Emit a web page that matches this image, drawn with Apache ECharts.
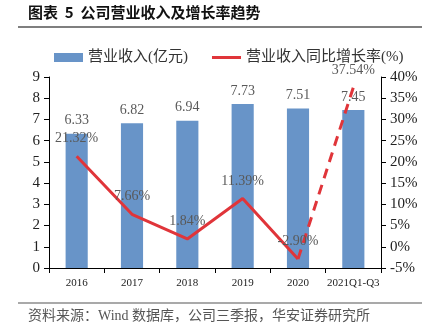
<!DOCTYPE html>
<html><head><meta charset="utf-8">
<script src="https://cdn.jsdelivr.net/npm/echarts@6/dist/echarts.min.js"></script>
<style>html,body{margin:0;padding:0;background:#fff}#c{width:422px;height:335px}</style>
</head><body><div id="c"></div>
<script>
const categories = ['2016','2017','2018','2019','2020','2021Q1-Q3'];
const revenue = [6.33, 6.82, 6.94, 7.73, 7.51, 7.45];
const growthSolid = [21.32, 7.66, 1.84, 11.39, -2.90, '-'];
const growthDashed = ['-', '-', '-', '-', -2.90, 37.54];
const leftTicks = [0, 9, 1];
const rightTicks = [-5, 40, 5];

const serif = '"Times New Roman","Liberation Serif","Noto Sans CJK SC",serif';
const cjk = '"Liberation Serif","Noto Sans CJK SC",serif';
const chart = echarts.init(document.getElementById('c'));
chart.setOption({
  animation: false,
  grid: {left: 49, right: 41, top: 77, bottom: 67},
  legend: {
    left: 49, top: 45, itemGap: 24, itemWidth: 29, itemHeight: 9,
    textStyle: {fontFamily: cjk, fontSize: 15, color: '#333'},
    data: [
      {name: '营业收入(亿元)', icon: 'rect'},
      {name: '营业收入同比增长率(%)', icon: 'path://M0,0 L0.01,0 Z M0,3 L30,3 L30,6 L0,6 Z M0,9 L0.01,9 Z', itemStyle: {color: '#E0353A'}}
    ]
  },
  xAxis: {
    type: 'category', data: categories,
    axisLine: {lineStyle: {color: '#000'}},
    axisTick: {show: true, lineStyle: {color: '#000'}, length: 5},
    axisLabel: {fontFamily: serif, fontSize: 11, color: '#222', margin: 10, interval: 0}
  },
  yAxis: [
    {type: 'value', min: leftTicks[0], max: leftTicks[1], interval: leftTicks[2],
     splitLine: {show: false},
     axisLine: {show: true, lineStyle: {color: '#000'}},
     axisTick: {show: true, lineStyle: {color: '#000'}, length: 5},
     axisLabel: {fontFamily: serif, fontSize: 15, color: '#222', margin: 9}},
    {type: 'value', min: rightTicks[0], max: rightTicks[1], interval: rightTicks[2],
     splitLine: {show: false},
     axisLine: {show: true, lineStyle: {color: '#000'}},
     axisTick: {show: true, lineStyle: {color: '#000'}, length: 5},
     axisLabel: {fontFamily: serif, fontSize: 15, color: '#222', margin: 9, formatter: '{value}%'}}
  ],
  series: [
    {name: '营业收入(亿元)', type: 'bar', data: revenue, barWidth: '40%',
     itemStyle: {color: '#6894C8'},
     label: {show: true, position: 'top', distance: 6, fontFamily: serif, fontSize: 14, color: '#595959',
             formatter: p => p.value.toFixed(2)}},
    {name: '营业收入同比增长率(%)', type: 'line', yAxisIndex: 1, data: growthSolid,
     symbol: 'circle', symbolSize: 1, showSymbol: true, itemStyle: {color: 'rgba(0,0,0,0)'},
     lineStyle: {color: '#E0353A', width: 3},
     label: {show: true, position: 'top', distance: 10, fontFamily: serif, fontSize: 14, color: '#595959',
             formatter: p => p.value.toFixed(2) + '%'}},
    {name: 'dash', type: 'line', yAxisIndex: 1, data: growthDashed,
     symbol: 'circle', symbolSize: 1, showSymbol: true, itemStyle: {color: 'rgba(0,0,0,0)'},
     lineStyle: {color: '#E0353A', width: 3, type: [10, 7]},
     label: {show: true, position: 'top', distance: 10, fontFamily: serif, fontSize: 14, color: '#595959',
             formatter: p => p.dataIndex === 5 ? p.value.toFixed(2) + '%' : ''}}
  ],
  graphic: [
    {type: 'text', left: 28, top: 5, style: {text: '图表  5  公司营业收入及增长率趋势', font: 'bold 15px "Noto Sans CJK SC"', fill: '#111'}},
    {type: 'line', shape: {x1: 18, y1: 27, x2: 422, y2: 27}, style: {stroke: '#555', lineWidth: 1.5}},
    {type: 'line', shape: {x1: 18, y1: 303, x2: 422, y2: 303}, style: {stroke: '#555', lineWidth: 1.2}},
    {type: 'text', left: 28, top: 309, style: {text: '资料来源：Wind 数据库，公司三季报，华安证券研究所', font: '14px ' + cjk, fill: '#555'}}
  ]
});
</script></body></html>
